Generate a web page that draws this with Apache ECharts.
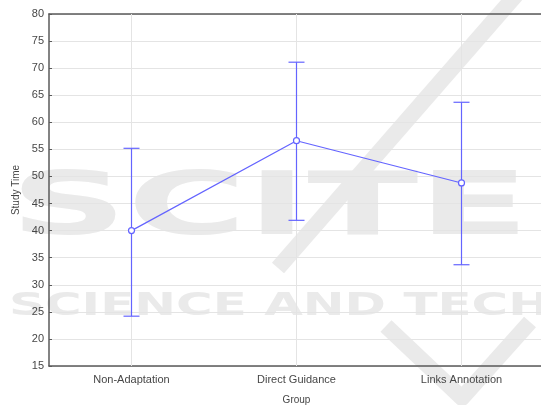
<!DOCTYPE html>
<html>
<head>
<meta charset="utf-8">
<script src="https://cdn.jsdelivr.net/npm/echarts@6/dist/echarts.min.js"></script>
<style>
  html, body { margin: 0; padding: 0; background: #fff; }
  #chart { width: 541px; height: 405px; }
</style>
</head>
<body>
<div id="chart"></div>
<script>
var groups = ['Non-Adaptation', 'Direct Guidance', 'Links Annotation'];
var means = [40.0, 56.6, 48.8];
var lows = [24.2, 41.9, 33.7];
var highs = [55.2, 71.1, 63.7];
var yTicks = { min: 15, max: 80, step: 5 };

var blue = '#6464ff';
var axisColor = '#5a5a5a';
var gridColor = '#e4e4e4';
var mark = '#eaeaea';
var labelColor = '#474747';
var font = 'Liberation Sans, Arial, sans-serif';

var chart = echarts.init(document.getElementById('chart'));

// error bars: vertical line + caps
function renderBar(params, api) {
  var x = api.value(0);
  var top = api.coord([x, api.value(2)]);
  var bot = api.coord([x, api.value(1)]);
  var half = 8;
  var st = { stroke: blue, lineWidth: 1.2 };
  return {
    type: 'group',
    children: [
      { type: 'line', shape: { x1: top[0], y1: top[1], x2: bot[0], y2: bot[1] }, style: st },
      { type: 'line', shape: { x1: top[0] - half, y1: top[1], x2: top[0] + half, y2: top[1] }, style: st },
      { type: 'line', shape: { x1: bot[0] - half, y1: bot[1], x2: bot[0] + half, y2: bot[1] }, style: st }
    ]
  };
}

var barData = groups.map(function (g, i) { return [i, lows[i], highs[i]]; });

var option = {
  animation: false,
  backgroundColor: '#fff',
  textStyle: { fontFamily: font },
  graphic: [
    { type: 'text', z: -10, x: 10, y: 211, scaleX: 1.85,
      style: { text: 'SCITE', font: 'bold 88px DejaVu Sans', fill: mark, verticalAlign: 'middle' } },
    { type: 'text', z: -10, x: 9, y: 307, scaleX: 1.56,
      style: { text: 'SCIENCE AND TECH', font: 'bold 32px DejaVu Sans', fill: mark, verticalAlign: 'middle' } },
    { type: 'polyline', z: -10, shape: { points: [[516, -5], [278, 268]] },
      style: { stroke: mark, lineWidth: 16, fill: null } },
    { type: 'polyline', z: -10, shape: { points: [[386, 326], [462, 398], [530, 322]] },
      style: { stroke: mark, lineWidth: 16, fill: null, lineJoin: 'round' } }
  ],
  grid: { left: 49, right: -3, top: 14, bottom: 39, outerBoundsMode: 'none', containLabel: false },
  xAxis: [{
    type: 'category',
    data: groups,
    name: 'Group',
    nameLocation: 'middle',
    nameGap: 29,
    nameTextStyle: { color: labelColor, fontSize: 10, fontFamily: font },
    axisLine: { lineStyle: { color: axisColor, width: 1.5 } },
    axisTick: { alignWithLabel: true, inside: true, length: 3, lineStyle: { color: axisColor } },
    axisLabel: { color: labelColor, fontSize: 11, margin: 8, fontFamily: font },
    splitLine: { show: false }
  }, {
    type: 'category',
    data: groups,
    position: 'top',
    axisLine: { lineStyle: { color: axisColor, width: 1.5 } },
    axisTick: { alignWithLabel: true, inside: true, length: 3, lineStyle: { color: axisColor } },
    axisLabel: { show: false },
    splitLine: { show: false }
  }],
  yAxis: [{
    type: 'value',
    min: yTicks.min,
    max: yTicks.max,
    interval: yTicks.step,
    name: 'Study Time',
    nameLocation: 'middle',
    nameGap: 28,
    nameTextStyle: { color: labelColor, fontSize: 10, fontFamily: font },
    axisLine: { show: true, lineStyle: { color: axisColor, width: 1.5 } },
    axisTick: { show: true, inside: true, length: 3, lineStyle: { color: axisColor } },
    axisLabel: { color: labelColor, fontSize: 11, margin: 5, fontFamily: font },
    splitLine: { show: true, lineStyle: { color: gridColor, width: 1 } }
  }, {
    type: 'value',
    position: 'right',
    min: yTicks.min,
    max: yTicks.max,
    interval: yTicks.step,
    axisLine: { show: true, lineStyle: { color: axisColor } },
    axisTick: { show: true, inside: true, length: 3, lineStyle: { color: axisColor } },
    axisLabel: { show: false },
    splitLine: { show: false }
  }],
  series: [{
    type: 'line',
    data: [],
    silent: true,
    z: 1,
    markLine: {
      silent: true,
      z: 1,
      symbol: 'none',
      label: { show: false },
      lineStyle: { color: gridColor, width: 1, type: 'solid' },
      data: groups.map(function (g) { return { xAxis: g }; })
    }
  }, {
    type: 'custom',
    renderItem: renderBar,
    data: barData,
    encode: { x: 0, y: [1, 2] },
    z: 6
  }, {
    type: 'line',
    data: means,
    symbol: 'circle',
    symbolSize: 6,
    itemStyle: { color: '#fff', borderColor: blue, borderWidth: 1.2 },
    lineStyle: { color: blue, width: 1.2 },
    z: 7
  }]
};

chart.setOption(option);
</script>
</body>
</html>
